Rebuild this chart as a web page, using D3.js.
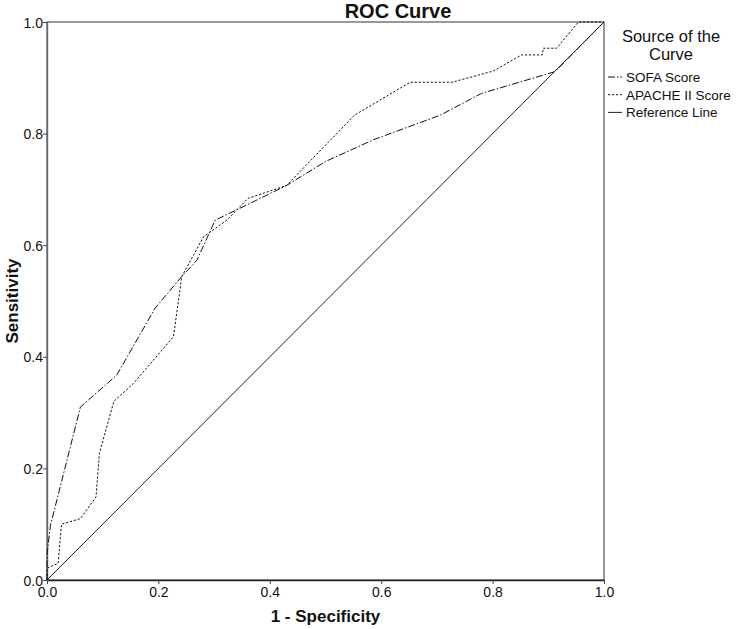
<!DOCTYPE html>
<html>
<head>
<meta charset="utf-8">
<script src="https://cdn.jsdelivr.net/npm/d3@7"></script>
<style>
  html, body { margin: 0; padding: 0; background: #fff; }
  svg { display: block; font-family: "Liberation Sans", Arial, sans-serif; }
</style>
</head>
<body>
<svg id="chart" width="736" height="629"></svg>
<script>
// ---- data ----
const sofaFpr  = [0, 0, 0.006, 0.06, 0.125, 0.194, 0.242, 0.269, 0.302, 0.346, 0.43, 0.50, 0.586, 0.706, 0.78, 0.912, 1];
const sofaTpr  = [0, 0.045, 0.097, 0.31, 0.367, 0.487, 0.544, 0.573, 0.645, 0.666, 0.707, 0.75, 0.789, 0.833, 0.872, 0.911, 1];
const apacheFpr = [0, 0, 0.02, 0.026, 0.06, 0.088, 0.094, 0.12, 0.155, 0.227, 0.242, 0.281, 0.323, 0.361, 0.43, 0.552, 0.652, 0.727, 0.801, 0.852, 0.889, 0.891, 0.915, 0.954, 1];
const apacheTpr = [0, 0.021, 0.03, 0.10, 0.11, 0.149, 0.227, 0.32, 0.352, 0.436, 0.544, 0.615, 0.645, 0.684, 0.707, 0.833, 0.892, 0.892, 0.912, 0.941, 0.941, 0.953, 0.953, 1.0, 1];
const refFpr = [0, 1];
const refTpr = [0, 1];
const tickValues = [0, 0.2, 0.4, 0.6, 0.8, 1.0];
const seriesNames = ["SOFA Score", "APACHE II Score", "Reference Line"];
const titleText = "ROC Curve";
const xLabel = "1 - Specificity";
const yLabel = "Sensitivity";
const legendTitle = ["Source of the", "Curve"];

// ---- layout ----
const svg = d3.select("#chart");
const L = 47, R = 604, T = 22, B = 580;
const x = d3.scaleLinear().domain([0, 1]).range([L, R]);
const y = d3.scaleLinear().domain([0, 1]).range([B, T]);

const styles = [
  { dash: "7,2,1.5,2", color: "#111", width: 1 },
  { dash: "2.2,1.8", color: "#111", width: 1 },
  { dash: null, color: "#222", width: 1 }
];

// frame
svg.append("rect").attr("x", L).attr("y", T).attr("width", R - L).attr("height", B - T)
  .attr("fill", "none").attr("stroke", "#555").attr("stroke-width", 1.2);

// axes
const fmt = d3.format(".1f");
const xAxis = svg.append("g").attr("transform", `translate(0,${B})`)
  .call(d3.axisBottom(x).tickValues(tickValues).tickFormat(fmt).tickSize(4).tickSizeOuter(0));
const yAxis = svg.append("g").attr("transform", `translate(${L},0)`)
  .call(d3.axisLeft(y).tickValues(tickValues).tickFormat(fmt).tickSize(4).tickSizeOuter(0));
[xAxis, yAxis].forEach(g => {
  g.select(".domain").attr("stroke", "#222").attr("stroke-width", 1.4);
  g.selectAll(".tick line").attr("stroke", "#444");
  g.selectAll(".tick text").attr("font-size", "14px").attr("fill", "#111")
    .attr("font-family", "'Liberation Sans', Arial, sans-serif");
});
xAxis.selectAll(".tick text").attr("dy", "0").attr("y", 17);
yAxis.select(".domain").attr("stroke", "#666");
yAxis.selectAll(".tick text").attr("x", -4).attr("dy", "0.36em");

// lines
const seriesData = [
  sofaFpr.map((v, i) => [v, sofaTpr[i]]),
  apacheFpr.map((v, i) => [v, apacheTpr[i]]),
  refFpr.map((v, i) => [v, refTpr[i]])
];
const line = d3.line().x(d => x(d[0])).y(d => y(d[1]));
[2, 1, 0].forEach(i => {
  const p = svg.append("path").datum(seriesData[i]).attr("d", line)
    .attr("fill", "none").attr("stroke", styles[i].color).attr("stroke-width", styles[i].width);
  if (styles[i].dash) p.attr("stroke-dasharray", styles[i].dash);
});

// title
svg.append("text").attr("x", 398).attr("y", 18).attr("text-anchor", "middle")
  .attr("font-size", "20px").attr("font-weight", "bold").attr("fill", "#111").text(titleText);

// axis labels
svg.append("text").attr("x", (L + R) / 2).attr("y", 622).attr("text-anchor", "middle")
  .attr("font-size", "17px").attr("font-weight", "bold").attr("fill", "#111").text(xLabel);
svg.append("text").attr("transform", `translate(18,${(T + B) / 2}) rotate(-90)`).attr("text-anchor", "middle")
  .attr("font-size", "17px").attr("font-weight", "bold").attr("fill", "#111").text(yLabel);

// legend
const lg = svg.append("g");
legendTitle.forEach((t, i) => {
  lg.append("text").attr("x", 671).attr("y", 42 + i * 17.5).attr("text-anchor", "middle")
    .attr("font-size", "16.5px").attr("fill", "#111").text(t);
});
seriesNames.forEach((name, i) => {
  const yy = 82 + i * 17.7;
  const p = lg.append("line").attr("x1", 608).attr("x2", 622).attr("y1", yy - 5).attr("y2", yy - 5)
    .attr("stroke", styles[i].color).attr("stroke-width", 1);
  if (styles[i].dash) p.attr("stroke-dasharray", styles[i].dash);
  lg.append("text").attr("x", 626).attr("y", yy).attr("font-size", "13.5px").attr("fill", "#111").text(name);
});
</script>
</body>
</html>
